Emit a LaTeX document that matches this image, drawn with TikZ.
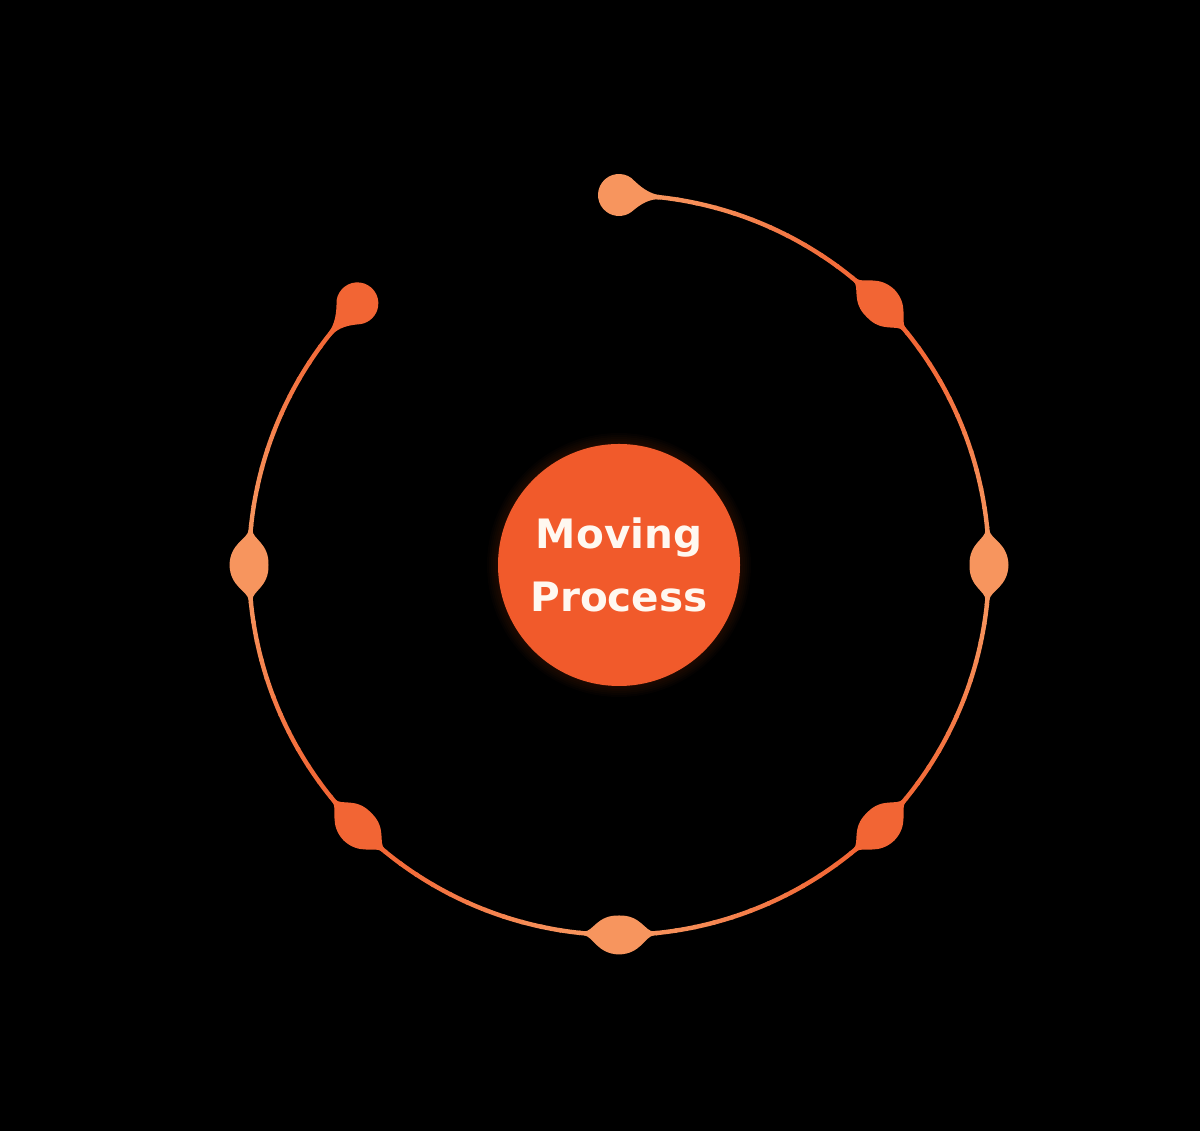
\documentclass[tikz,border=0pt]{standalone}
\usepackage{fontspec}
\setmainfont{DejaVu Sans}
\definecolor{ringlight}{HTML}{F7955E}
\definecolor{ringred}{HTML}{F26534}
\definecolor{hubfill}{HTML}{F15A2B}
\definecolor{hubtext}{HTML}{FFF8F0}
\tikzset{
  hub/.style={circle, fill=hubfill, minimum size=242pt, inner sep=0pt, text=hubtext,
    align=center, font=\bfseries\fontsize{40.5}{63}\selectfont},
  % lens-shaped node, slightly bent to follow the ring (centre of ring on local -y side)
  pics/lensnode/.style={code={
    \fill[#1] (-35,0.24) .. controls (-26,1.29) and (-22,18.85) .. (0,19.5)
      .. controls (22,18.85) and (26,1.29) .. (35,0.24) -- (35,-3.56)
      .. controls (26,-3.11) and (22,-20.15) .. (0,-19.5)
      .. controls (-22,-20.15) and (-26,-3.11) .. (-35,-3.56) -- cycle;}},
  % drop-shaped end node, tail along local +x
  pics/dropnode/.style={code={
    \fill[#1] (42,-0.48) .. controls (30,0.98) and (21,8.4) .. (12.6,16.8)
      arc[start angle=53.13, end angle=306.87, radius=21]
      .. controls (21,-9.6) and (30,-3.42) .. (42,-4.28) -- cycle;}}
}
\begin{document}
\begin{tikzpicture}[x=1pt,y=1pt]
\fill[black] (0,0) rectangle (1200,1131);
\useasboundingbox (0,0) rectangle (1200,1131);
\coordinate (O) at (619,566);
% soft glow behind the hub
\foreach \r in {122,124,...,132} \fill[hubfill, opacity=0.025] (O) circle (\r);
% ring with colour gradient
\foreach \a in {90,87,...,-222} {
  \pgfmathsetmacro\t{50*(1-cos(4*\a))}
  \colorlet{segc}{ringred!\t!ringlight}
  \draw[segc, line width=4.4] ([shift={(O)}]\a:370) arc[start angle=\a, end angle=\a-3.3, radius=370];
}
% nodes on the ring
\path (O) ++(90:370) coordinate (n1) pic[rotate=0] {dropnode=ringlight};
\path (O) ++(45:370) coordinate (n2) pic[rotate=-45] {lensnode=ringred};
\path (O) ++(0:370) coordinate (n3) pic[rotate=-90] {lensnode=ringlight};
\path (O) ++(-45:370) coordinate (n4) pic[rotate=-135] {lensnode=ringred};
\path (O) ++(-90:370) coordinate (n5) pic[rotate=-180] {lensnode=ringlight};
\path (O) ++(-135:370) coordinate (n6) pic[rotate=-225] {lensnode=ringred};
\path (O) ++(180:370) coordinate (n7) pic[rotate=90] {lensnode=ringlight};
\path (O) ++(135:370) coordinate (n8) pic[rotate=225, yscale=-1] {dropnode=ringred};
\node[hub] (hub) at (O) {Moving\\Process};
\end{tikzpicture}
\end{document}
